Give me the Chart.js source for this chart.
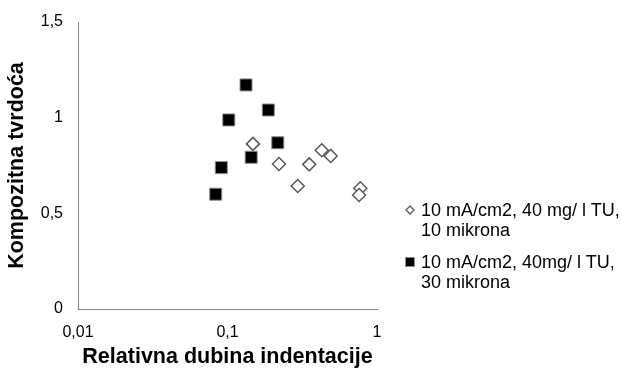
<!DOCTYPE html>
<html>
<head>
<meta charset="utf-8">
<script src="https://cdn.jsdelivr.net/npm/chart.js@4"></script>
<style>
  body { margin: 0; background: #fff; }
  #wrap { position: relative; width: 621px; height: 370px; overflow: hidden; }
  #legenda { position: absolute; left: 400px; top: 200px; font: 18px "Liberation Sans", Arial, sans-serif; color: #000; white-space: nowrap; }
  .item { position: relative; padding-left: 21px; line-height: 20px; margin-bottom: 12px; }
  .item canvas { position: absolute; left: 3px; top: 3px; }
</style>
</head>
<body>
<div id="wrap">
  <canvas id="grafico" width="621" height="370"></canvas>
  <div id="legenda"></div>
</div>
<script>
// dados
const serie1Nome = ['10 mA/cm2, 40 mg/ l TU,', '10 mikrona'];
const serie1X = [0.148, 0.221, 0.352, 0.427, 0.490, 0.295, 0.773, 0.759];
const serie1Y = [0.863, 0.758, 0.756, 0.830, 0.800, 0.643, 0.631, 0.596];

const serie2Nome = ['10 mA/cm2, 40mg/ l TU,', '30 mikrona'];
const serie2X = [0.133, 0.1875, 0.102, 0.217, 0.144, 0.0909, 0.0834];
const serie2Y = [1.171, 1.040, 0.988, 0.869, 0.793, 0.739, 0.600];

const ticksX = [0.01, 0.1, 1];
const rotulosX = ['0,01', '0,1', '1'];
const ticksY = [0, 0.5, 1, 1.5];
const rotulosY = ['0', '0,5', '1', '1,5'];

const tituloX = 'Relativna dubina indentacije';
const tituloY = 'Kompozitna tvrdoća';

const fonte = '"Liberation Sans", Arial, sans-serif';
const pontos = (xs, ys) => xs.map((x, i) => ({x: x, y: ys[i]}));

const ctx = document.getElementById('grafico');

new Chart(ctx, {
    type: 'scatter',
    data: {
        datasets: [{
            label: serie1Nome.join(' '),
            data: pontos(serie1X, serie1Y),
            pointStyle: 'rectRot',
            pointRadius: 6.5,
            pointHoverRadius: 6.5,
            backgroundColor: '#fff',
            borderColor: '#595959',
            borderWidth: 1.5
        }, {
            label: serie2Nome.join(' '),
            data: pontos(serie2X, serie2Y),
            pointStyle: 'rect',
            pointRadius: 8.5,
            pointHoverRadius: 8.5,
            backgroundColor: '#000',
            borderColor: '#8c8c8c',
            borderWidth: 1
        }]
    },
    options: {
        responsive: false,
        animation: false,
        layout: { padding: { top: 22, right: 244, left: 0, bottom: 0 } },
        scales: {
            x: {
                type: 'logarithmic',
                min: 0.01,
                max: 1,
                afterBuildTicks: s => { s.ticks = ticksX.map(v => ({value: v})); },
                afterFit: s => { s.height = 61; },
                grid: { display: false },
                border: { display: true, color: '#868686', width: 1 },
                ticks: {
                    padding: 6,
                    color: '#000',
                    font: { family: fonte, size: 16 },
                    autoSkip: false,
                    maxRotation: 0,
                    callback: v => rotulosX[ticksX.indexOf(v)] ?? ''
                },
                title: {
                    display: true,
                    text: tituloX,
                    color: '#000',
                    font: { family: fonte, size: 21.5, weight: 'bold' },
                    padding: { top: 0, bottom: 0 }
                }
            },
            y: {
                min: 0,
                max: 1.5,
                afterBuildTicks: s => { s.ticks = ticksY.map(v => ({value: v})); },
                afterFit: s => { s.width = 78; },
                grid: { display: false },
                border: { display: true, color: '#868686', width: 1 },
                ticks: {
                    padding: 7,
                    color: '#000',
                    font: { family: fonte, size: 16 },
                    callback: v => rotulosY[ticksY.indexOf(v)] ?? ''
                },
                title: {
                    display: true,
                    text: tituloY,
                    color: '#000',
                    font: { family: fonte, size: 21.5, weight: 'bold' },
                    padding: { top: 4, bottom: 0 }
                }
            }
        },
        plugins: {
            legend: { display: false },
            tooltip: { enabled: false }
        }
    }
});

// legenda em HTML com os mesmos marcadores
const legenda = document.getElementById('legenda');
[[serie1Nome, 'rectRot'], [serie2Nome, 'rect']].forEach(([nome, estilo]) => {
    const div = document.createElement('div');
    div.className = 'item';
    const c = document.createElement('canvas');
    c.width = 14; c.height = 14;
    const g = c.getContext('2d');
    if (estilo === 'rectRot') {
        g.strokeStyle = '#595959'; g.lineWidth = 1.3; g.fillStyle = '#fff';
        g.beginPath(); g.moveTo(7, 3); g.lineTo(11, 7); g.lineTo(7, 11); g.lineTo(3, 7); g.closePath();
        g.fill(); g.stroke();
    } else {
        g.fillStyle = '#8c8c8c'; g.fillRect(2, 2, 10, 10);
        g.fillStyle = '#000'; g.fillRect(3, 3, 8, 8);
    }
    div.appendChild(c);
    nome.forEach(l => { const s = document.createElement('div'); s.textContent = l; div.appendChild(s); });
    legenda.appendChild(div);
});
</script>
</body>
</html>
